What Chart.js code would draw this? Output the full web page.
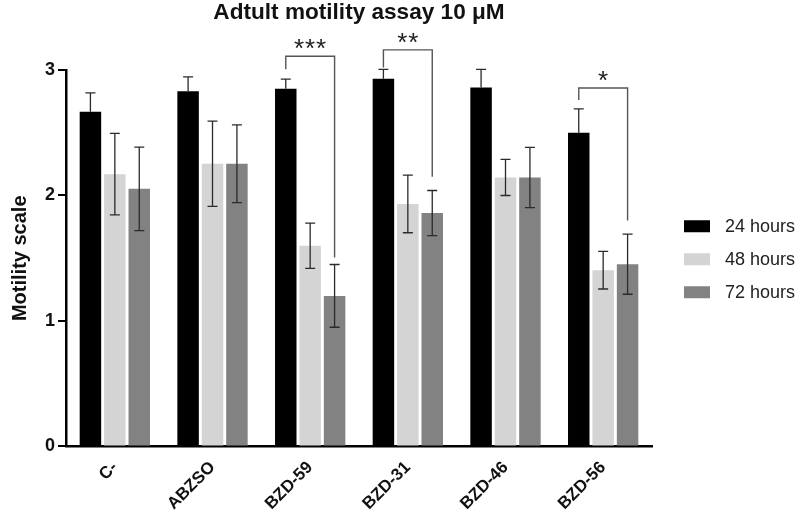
<!DOCTYPE html>
<html>
<head>
<meta charset="utf-8">
<script src="https://cdn.jsdelivr.net/npm/chart.js@4.4.1/dist/chart.umd.min.js"></script>
<style>
    body { margin: 0; background: #fff; }
    #box { width: 797px; height: 519px; }
</style>
</head>
<body>
<div id="box"><canvas id="graph"></canvas></div>
<script>
const categories = ['C-', 'ABZSO', 'BZD-59', 'BZD-31', 'BZD-46', 'BZD-56'];
const legende = ['24 hours', '48 hours', '72 hours'];
const couleurs = ['#000000', '#d4d4d4', '#828282'];
const titre = 'Adtult motility assay 10 μM';

const val24 = [2.667, 2.83, 2.85, 2.93, 2.86, 2.5];
const val48 = [2.17, 2.253, 1.6, 1.933, 2.144, 1.405];
const val72 = [2.053, 2.253, 1.2, 1.86, 2.144, 1.453];

const err24 = [0.15, 0.115, 0.078, 0.075, 0.145, 0.19];
const err48 = [0.325, 0.34, 0.18, 0.23, 0.144, 0.15];
const err72 = [0.333, 0.31, 0.25, 0.18, 0.24, 0.24];

const yTicks = [0, 1, 2, 3];

// crochets de significativité : groupe, haut, bas gauche, bas droite
const sigGroupe = [2, 3, 5];
const sigHaut = [3.11, 3.16, 2.856];
const sigBasG = [3.005, 3.02, 2.76];
const sigBasD = [1.506, 2.15, 1.8];
const sigEtoiles = [3, 2, 1];

const valeurs = [val24, val48, val72];
const erreurs = [err24, err48, err72];

const police = '"Liberation Sans", Arial, sans-serif';

const barresErreur = {
    id: 'barresErreur',
    afterDatasetsDraw(chart) {
        const ctx = chart.ctx;
        const y = chart.scales.y;
        ctx.save();
        ctx.strokeStyle = '#2a2a2a';
        ctx.lineWidth = 1.3;
        for (let i = 0; i < valeurs.length; i++) {
            const meta = chart.getDatasetMeta(i);
            meta.data.forEach((bar, j) => {
                const haut = y.getPixelForValue(valeurs[i][j] + erreurs[i][j]);
                const bas = y.getPixelForValue(valeurs[i][j] - erreurs[i][j]);
                ctx.beginPath();
                ctx.moveTo(bar.x - 5, haut);
                ctx.lineTo(bar.x + 5, haut);
                ctx.moveTo(bar.x, haut);
                if (i === 0) {
                    // barre noire : la moitié basse est cachée dans la barre
                    ctx.lineTo(bar.x, bar.y);
                } else {
                    ctx.lineTo(bar.x, bas);
                    ctx.moveTo(bar.x - 5, bas);
                    ctx.lineTo(bar.x + 5, bas);
                }
                ctx.stroke();
            });
        }
        // crochets
        ctx.strokeStyle = '#555555';
        ctx.lineWidth = 1.4;
        ctx.fillStyle = '#222';
        ctx.font = '26px ' + police;
        ctx.textAlign = 'center';
        ctx.textBaseline = 'alphabetic';
        for (let k = 0; k < sigGroupe.length; k++) {
            const g = sigGroupe[k];
            const xg = chart.getDatasetMeta(0).data[g].x;
            const xd = chart.getDatasetMeta(2).data[g].x;
            const yh = y.getPixelForValue(sigHaut[k]);
            ctx.beginPath();
            ctx.moveTo(xg, y.getPixelForValue(sigBasG[k]));
            ctx.lineTo(xg, yh);
            ctx.lineTo(xd, yh);
            ctx.lineTo(xd, y.getPixelForValue(sigBasD[k]));
            ctx.stroke();
            const n = sigEtoiles[k];
            const milieu = (xg + xd) / 2;
            for (let s = 0; s < n; s++) {
                ctx.fillText('*', milieu + (s - (n - 1) / 2) * 11, yh + 1);
            }
        }
        ctx.restore();
    }
};

// titre centré sur la zone du graphique + légende à droite
const titreLegende = {
    id: 'titreLegende',
    afterDraw(chart) {
        const ctx = chart.ctx;
        const a = chart.chartArea;
        ctx.save();
        ctx.fillStyle = '#111';
        ctx.font = 'bold 22.6px ' + police;
        ctx.textAlign = 'center';
        ctx.textBaseline = 'alphabetic';
        ctx.fillText(titre, (a.left + a.right) / 2, 19);

        const milieu = (a.top + a.bottom) / 2 + 1;
        ctx.font = '18px ' + police;
        ctx.textAlign = 'left';
        ctx.textBaseline = 'middle';
        chart.data.datasets.forEach((ds, i) => {
            const yc = milieu + (i - 1) * 33;
            ctx.fillStyle = ds.backgroundColor;
            ctx.fillRect(a.right + 32, yc - 6, 26, 12);
            ctx.fillStyle = '#222';
            ctx.fillText(ds.label, a.right + 73, yc + 1);
        });
        ctx.restore();
    }
};

function datasets() {
    let ds = [];
    for (let i = 0; i < valeurs.length; i++) {
        ds.push({
            label: legende[i],
            data: valeurs[i],
            backgroundColor: couleurs[i],
            borderWidth: 0,
            categoryPercentage: 0.75,
            barPercentage: 0.88
        });
    }
    return ds;
}

new Chart(document.getElementById('graph'), {
    type: 'bar',
    data: {
        labels: categories,
        datasets: datasets()
    },
    options: {
        responsive: true,
        maintainAspectRatio: false,
        animation: false,
        layout: { padding: { left: 4, right: 145, top: 70, bottom: 2 } },
        plugins: {
            title: { display: false },
            legend: { display: false },
            tooltip: { enabled: false }
        },
        scales: {
            x: {
                grid: { display: false },
                border: { display: true, color: '#000', width: 2.5 },
                ticks: {
                    color: '#111',
                    maxRotation: 45,
                    minRotation: 45,
                    font: { family: police, size: 17, weight: 'bold' }
                }
            },
            y: {
                min: 0,
                max: 3,
                afterBuildTicks: (axis) => {
                    axis.ticks = yTicks.map(v => ({ value: v }));
                },
                grid: {
                    drawOnChartArea: false,
                    drawTicks: true,
                    tickLength: 8,
                    color: '#000',
                    lineWidth: 2
                },
                border: { display: true, color: '#000', width: 2.5 },
                ticks: {
                    color: '#111',
                    padding: 3,
                    font: { family: police, size: 18, weight: 'bold' }
                },
                title: {
                    display: true,
                    text: 'Motility scale',
                    color: '#111',
                    font: { family: police, size: 20, weight: 'bold' },
                    padding: { bottom: 10 }
                }
            }
        }
    },
    plugins: [barresErreur, titreLegende]
});
</script>
</body>
</html>
